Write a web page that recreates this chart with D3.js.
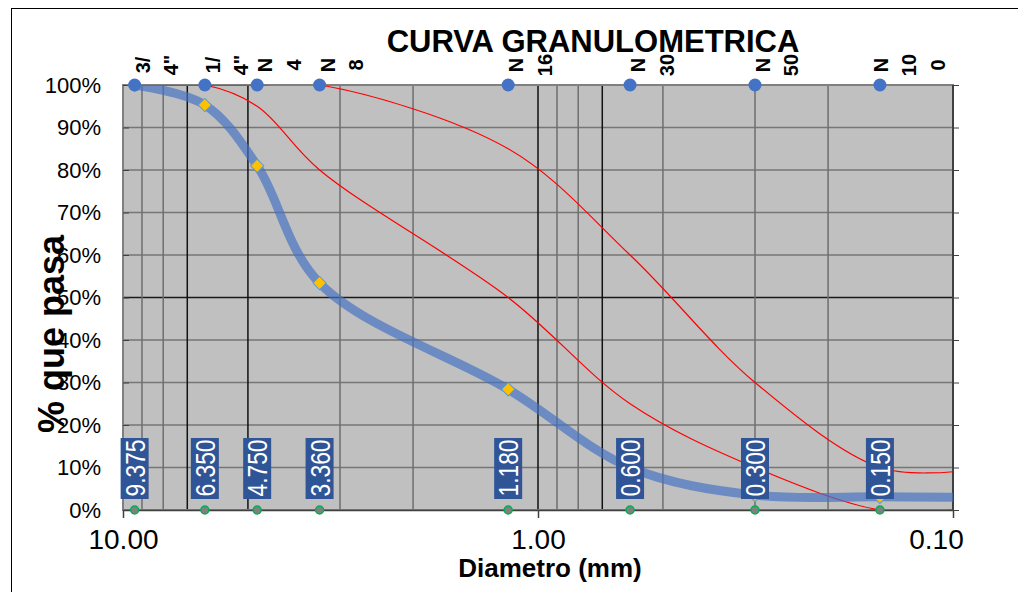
<!DOCTYPE html>
<html>
<head>
<meta charset="utf-8">
<script src="https://cdn.jsdelivr.net/npm/d3@7"></script>
<style>
    body { margin: 0; background: #fff; }
    svg { display: block; font-family: "Liberation Sans", Arial, sans-serif; }
</style>
</head>
<body>
<div class="chart"></div>
<script>
// sieves (name split in lines as shown on top, opening in mm)
var sieveNames = [["3/", "4\""], ["1/", "4\""], ["N", "4"], ["N", "8"], ["N", "16"], ["N", "30"], ["N", "50"], ["N", "10", "0"]];
var sieveDiam = [9.375, 6.35, 4.75, 3.36, 1.18, 0.6, 0.3, 0.15];
var sieveLabels = ["9.375", "6.350", "4.750", "3.360", "1.180", "0.600", "0.300", "0.150"];

// curves: diameter (mm) and % que pasa
var curveDiam = [9.375, 6.35, 4.75, 3.36, 1.18, 0.6, 0.3, 0.15, 0.1];
var pasa = [100, 95.3, 81.0, 53.4, 28.4, 10.0, 3.5, 3.1, 3.0];
var limiteInf = [100, 100, 95, 80, 50, 25, 10, 0, 0];
var limiteSup = [100, 100, 100, 100, 85, 60, 30, 10, 9];

// ticks and grid
var xTicks = [10, 1, 0.1];
var yTicks = [0, 10, 20, 30, 40, 50, 60, 70, 80, 90, 100];
var gridMinor = [9, 8, 3, 2, 0.9, 0.8, 0.5, 0.3, 0.2];
var gridMajor = [7, 5, 1, 0.7];
var yGridMajor = [50];

var W = 1018, H = 592;
var margin = ({top: 85, right: 65, bottom: 82, left: 123});
var width = W - margin.left - margin.right,
    height = H - margin.top - margin.bottom;

var root = d3.select(".chart").append("svg")
    .attr("width", W)
    .attr("height", H);

// outer frame
root.append("rect")
    .attr("x", 11.5).attr("y", 8.5)
    .attr("width", 1100).attr("height", 700)
    .attr("fill", "none")
    .attr("stroke", "#000")
    .attr("stroke-width", 1);

var svg = root.append("g")
    .attr("transform", "translate(" + margin.left + "," + margin.top + ")");

const xScale = d3.scaleLog()
    .domain([10, 0.1])
    .range([0, width]);

const yScale = d3.scaleLinear()
    .domain([0, 100])
    .range([height, 0]);

svg.append("defs").append("clipPath")
    .attr("id", "plot-clip")
    .append("rect")
    .attr("width", width)
    .attr("height", height);

// plot background
svg.append("rect")
    .attr("width", width)
    .attr("height", height)
    .attr("fill", "#c0c0c0");

// gridlines
svg.selectAll(".hgrid")
    .data(yTicks)
    .enter().append("line")
    .attr("class", "hgrid")
    .attr("x1", 0).attr("x2", width)
    .attr("y1", d => yScale(d)).attr("y2", d => yScale(d))
    .attr("stroke", d => yGridMajor.includes(d) ? "#1a1a1a" : "#767676")
    .attr("stroke-width", 1.5);

svg.selectAll(".vgrid")
    .data(gridMinor.concat(gridMajor))
    .enter().append("line")
    .attr("class", "vgrid")
    .attr("x1", d => xScale(d)).attr("x2", d => xScale(d))
    .attr("y1", 0).attr("y2", height)
    .attr("stroke", d => gridMajor.includes(d) ? "#111" : "#6e6e6e")
    .attr("stroke-width", 1.5);

// plot border
svg.append("rect")
    .attr("width", width)
    .attr("height", height)
    .attr("fill", "none")
    .attr("stroke", "#808080")
    .attr("stroke-width", 2);

svg.append("line")
    .attr("x1", width).attr("x2", width)
    .attr("y1", 0).attr("y2", height)
    .attr("stroke", "#404040")
    .attr("stroke-width", 2);

// axes
const xAxis = d3.axisBottom(xScale)
    .tickValues(xTicks)
    .tickFormat(d3.format(".2f"))
    .tickSizeInner(8)
    .tickSizeOuter(0)
    .tickPadding(6);

var gx = svg.append("g")
    .attr("class", "axis x-axis")
    .attr("transform", `translate(0, ${height})`)
    .call(xAxis);
gx.select(".domain").attr("stroke", "#404040").attr("stroke-width", 1.5);
gx.selectAll(".tick line").attr("stroke", "#404040").attr("stroke-width", 1.5);
gx.selectAll("text")
    .attr("font-size", 28)
    .attr("fill", "#000")
    .attr("dy", "0.9em")
    .attr("dx", (d, i) => i == xTicks.length - 1 ? -17 : 0);

const yAxis = d3.axisLeft(yScale)
    .tickValues(yTicks)
    .tickFormat(d => d + "%")
    .tickSizeInner(-6)
    .tickSizeOuter(0)
    .tickPadding(22);

var gy = svg.append("g")
    .attr("class", "axis y-axis")
    .call(yAxis);
gy.select(".domain").remove();
gy.selectAll(".tick line").attr("stroke", "#404040");
gy.selectAll("text").attr("font-size", 22).attr("fill", "#000");

const yAxisRight = d3.axisRight(yScale)
    .tickValues(yTicks)
    .tickFormat("")
    .tickSizeInner(6)
    .tickSizeOuter(0);

var gyr = svg.append("g")
    .attr("transform", `translate(${width}, 0)`)
    .call(yAxisRight);
gyr.select(".domain").remove();
gyr.selectAll(".tick line").attr("stroke", "#404040");

// curves
var lines = svg.append("g").attr("clip-path", "url(#plot-clip)");

var line = d3.line()
    .x((d, i) => xScale(curveDiam[i]))
    .y(d => yScale(d))
    .curve(d3.curveCatmullRom.alpha(0.5));

[limiteInf, limiteSup].forEach(function(serie) {
    lines.append("path")
        .datum(serie)
        .attr("d", line)
        .attr("fill", "none")
        .attr("stroke", "#ff0000")
        .attr("stroke-width", 1.2);
});

lines.append("path")
    .datum(pasa)
    .attr("d", line)
    .attr("fill", "none")
    .attr("stroke", "#4472c4")
    .attr("stroke-opacity", 0.68)
    .attr("stroke-width", 9)
    .attr("stroke-linejoin", "round");

// markers only on the sieve points
lines.selectAll(".diamond")
    .data(pasa.slice(0, sieveDiam.length))
    .enter().append("path")
    .attr("class", "diamond")
    .attr("d", d3.symbol(d3.symbolSquare, 88))
    .attr("transform", (d, i) => `translate(${xScale(curveDiam[i])},${yScale(d)}) rotate(45)`)
    .attr("fill", "#ffc000")
    .attr("stroke", "#5b9bd5")
    .attr("stroke-width", 1);

// sieve markers at 100% and 0%
svg.selectAll(".top-dot")
    .data(sieveDiam)
    .enter().append("circle")
    .attr("class", "top-dot")
    .attr("cx", d => xScale(d))
    .attr("cy", yScale(100))
    .attr("r", 6.5)
    .attr("fill", "#4472c4");

svg.selectAll(".bottom-dot")
    .data(sieveDiam)
    .enter().append("circle")
    .attr("class", "bottom-dot")
    .attr("cx", d => xScale(d))
    .attr("cy", yScale(0))
    .attr("r", 4)
    .attr("fill", "#808080")
    .attr("stroke", "#00b050")
    .attr("stroke-width", 1.5);

// data labels (opening in mm)
var labels = svg.selectAll(".dlabel")
    .data(sieveDiam)
    .enter().append("g")
    .attr("class", "dlabel")
    .attr("transform", d => `translate(${xScale(d)}, ${yScale(0) - 42})`);

labels.append("rect")
    .attr("x", -14).attr("y", -30)
    .attr("width", 28).attr("height", 61)
    .attr("fill", "#2f5597");

labels.append("text")
    .attr("transform", "translate(10,0) rotate(-90)")
    .attr("text-anchor", "middle")
    .attr("font-size", 27)
    .attr("fill", "#fff")
    .attr("textLength", 57)
    .attr("lengthAdjust", "spacingAndGlyphs")
    .text((d, i) => sieveLabels[i]);

// sieve names on top
var names = svg.selectAll(".sname")
    .data(sieveDiam)
    .enter().append("g")
    .attr("class", "sname");

names.each(function(d, i) {
    var parts = sieveNames[i];
    var off = 15 - (parts.length - 2) * 7;
    d3.select(this).selectAll("text")
        .data(parts)
        .enter().append("text")
        .attr("transform", (p, j) => `translate(${xScale(d) + off + j * 28.5}, -20) rotate(-90)`)
        .attr("text-anchor", "middle")
        .attr("font-size", 20)
        .attr("font-weight", "bold")
        .attr("fill", "#000")
        .text(p => p);
});

// titles
root.append("text")
    .attr("x", 593).attr("y", 52)
    .attr("text-anchor", "middle")
    .attr("font-size", 31)
    .attr("font-weight", "bold")
    .text("CURVA GRANULOMETRICA");

root.append("text")
    .attr("x", 550).attr("y", 577)
    .attr("text-anchor", "middle")
    .attr("font-size", 26)
    .attr("font-weight", "bold")
    .text("Diametro (mm)");

root.append("text")
    .attr("transform", "translate(64, 334) rotate(-90)")
    .attr("text-anchor", "middle")
    .attr("font-size", 36)
    .attr("font-weight", "bold")
    .text("% que pasa");
</script>
</body>
</html>
